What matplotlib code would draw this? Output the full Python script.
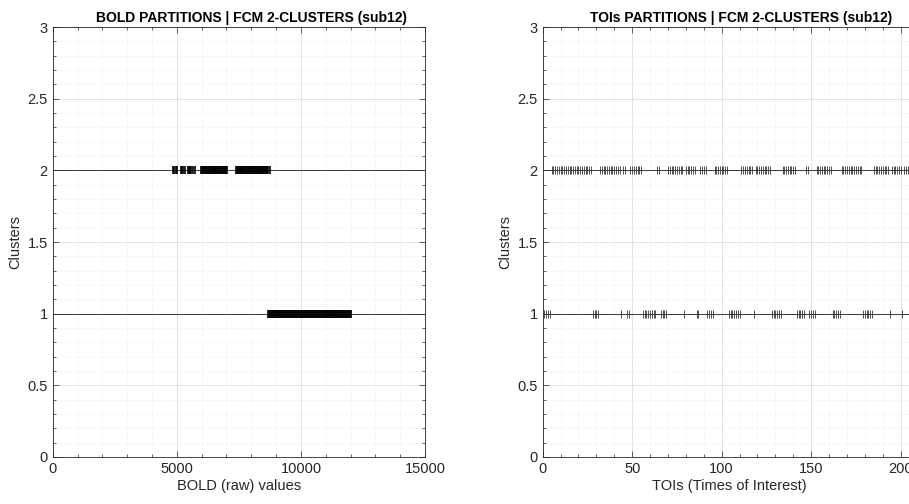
import matplotlib
matplotlib.use("Agg")
import matplotlib.pyplot as plt
from matplotlib.ticker import MultipleLocator, FuncFormatter

plt.rcParams['font.family'] = ['Liberation Sans', 'DejaVu Sans']

# BOLD raw values per cluster (left panel)
bold_c2 = [4858, 4905, 4952, 4991, 5172, 5220, 5268, 5315, 5455, 5497, 5541,
           5590, 5638, 5731, 5978, 6015, 6058, 6101, 6152, 6188, 6225, 6263,
           6297, 6338, 6372, 6410, 6447, 6481, 6520, 6556, 6593, 6631, 6667,
           6702, 6740, 6778, 6815, 6850, 6889, 6925, 6962, 7001, 7040, 7388,
           7421, 7459, 7495, 7530, 7568, 7603, 7641, 7677, 7712, 7750, 7786,
           7821, 7858, 7893, 7931, 7966, 8003, 8040, 8074, 8110, 8147, 8183,
           8219, 8255, 8291, 8328, 8363, 8400, 8436, 8471, 8508, 8544, 8580,
           8617, 8652, 8690, 8735]
bold_c1 = [8655, 8702, 8741, 8779, 8820, 8858, 8899, 8937, 8978, 9016, 9057,
           9095, 9136, 9174, 9215, 9253, 9294, 9332, 9373, 9411, 9452, 9490,
           9531, 9569, 9610, 9648, 9689, 9727, 9768, 9806, 9847, 9885, 9926,
           9964, 10005, 10043, 10084, 10122, 10163, 10201, 10242, 10280, 10321,
           10359, 10400, 10438, 10479, 10517, 10558, 10596, 10637, 10675, 10716,
           10754, 10795, 10833, 10874, 10912, 10953, 10991, 11032, 11070, 11111,
           11149, 11190, 11228, 11269, 11307, 11348, 11386, 11427, 11465, 11506,
           11544, 11585, 11623, 11664, 11702, 11743, 11781, 11822, 11860, 11901,
           11939, 11980, 12025]

# TOIs (times of interest) per cluster (right panel)
toi_c1 = [1, 2, 3, 4, 28, 29, 30, 31, 44, 47, 48, 56, 57, 58, 59, 60, 61, 62,
          63, 66, 67, 68, 69, 79, 86, 87, 92, 93, 94, 95, 104, 105, 106, 107,
          108, 109, 110, 118, 128, 129, 130, 131, 132, 133, 142, 143, 144, 145,
          146, 149, 150, 151, 152, 162, 163, 164, 165, 166, 179, 180, 181, 182,
          183, 184, 194, 201]
toi_c2 = [5, 6, 7, 8, 9, 10, 11, 12, 13, 14, 15, 16, 17, 18, 19, 20, 21, 22,
          23, 24, 25, 26, 27, 32, 33, 34, 35, 36, 37, 38, 39, 40, 41, 42, 43,
          45, 46, 49, 50, 51, 52, 53, 54, 55, 64, 65, 70, 71, 72, 73, 74, 75,
          76, 77, 78, 80, 81, 82, 83, 84, 85, 88, 89, 90, 91, 96, 97, 98, 99,
          100, 101, 102, 103, 111, 112, 113, 114, 115, 116, 117, 119, 120, 121,
          122, 123, 124, 125, 126, 127, 134, 135, 136, 137, 138, 139, 140, 141,
          147, 148, 153, 154, 155, 156, 157, 158, 159, 160, 161, 167, 168, 169,
          170, 171, 172, 173, 174, 175, 176, 177, 178, 185, 186, 187, 188, 189,
          190, 191, 192, 193, 195, 196, 197, 198, 199, 200, 202, 203, 204, 205]

AX_COL = "#262626"


def style_axes(ax, xmax, xmajor, xminor, title, xlabel):
    ax.set_xlim(0, xmax)
    ax.set_ylim(0, 3)
    ax.xaxis.set_major_locator(MultipleLocator(xmajor))
    ax.xaxis.set_minor_locator(MultipleLocator(xminor))
    ax.yaxis.set_major_locator(MultipleLocator(0.5))
    ax.yaxis.set_minor_locator(MultipleLocator(0.1))
    ax.yaxis.set_major_formatter(FuncFormatter(lambda v, p: f"{v:g}"))
    ax.xaxis.set_major_formatter(FuncFormatter(lambda v, p: f"{v:g}"))
    ax.grid(which="major", color="#dddddd", linewidth=0.6)
    ax.grid(which="minor", color="#e6e6e6", linewidth=0.5, linestyle=(0, (1, 1.5)))
    ax.set_axisbelow(True)
    ax.tick_params(which="both", direction="in", top=True, right=True,
                   colors=AX_COL, labelsize=10.5, width=0.5)
    ax.tick_params(which="major", length=4)
    ax.tick_params(which="minor", length=2)
    for s in ax.spines.values():
        s.set_color(AX_COL)
        s.set_linewidth(0.6)
    ax.set_title(title, fontsize=10, fontweight="bold", color="black", pad=4,
                 x=0.533)
    ax.set_xlabel(xlabel, fontsize=10.5, color=AX_COL, labelpad=2)
    ax.set_ylabel("Clusters", fontsize=10.5, color=AX_COL, labelpad=4)


fig = plt.figure(figsize=(9.09, 5.04), dpi=100)
ax1 = fig.add_axes([0.058, 0.0933, 0.4096, 0.853])
ax2 = fig.add_axes([0.597, 0.0933, 0.4096, 0.853])

for ax in (ax1, ax2):
    ax.axhline(1, color="#3a3a3a", linewidth=0.7, zorder=2)
    ax.axhline(2, color="#3a3a3a", linewidth=0.7, zorder=2)

ax1.plot(bold_c2, [2] * len(bold_c2), linestyle="none", marker="|",
         markersize=6, markeredgewidth=1.2, color="black", zorder=3)
ax1.plot(bold_c1, [1] * len(bold_c1), linestyle="none", marker="|",
         markersize=6, markeredgewidth=1.2, color="black", zorder=3)

ax2.plot(toi_c2, [2] * len(toi_c2), linestyle="none", marker="|",
         markersize=6, markeredgewidth=0.6, color="#333333", zorder=3)
ax2.plot(toi_c1, [1] * len(toi_c1), linestyle="none", marker="|",
         markersize=6, markeredgewidth=0.6, color="#333333", zorder=3)

style_axes(ax1, 15000, 5000, 1000, "BOLD PARTITIONS | FCM 2-CLUSTERS (sub12)",
           "BOLD (raw) values")
style_axes(ax2, 208, 50, 10, "TOIs PARTITIONS | FCM 2-CLUSTERS (sub12)",
           "TOIs (Times of Interest)")

fig.savefig("out.png", dpi=100)
